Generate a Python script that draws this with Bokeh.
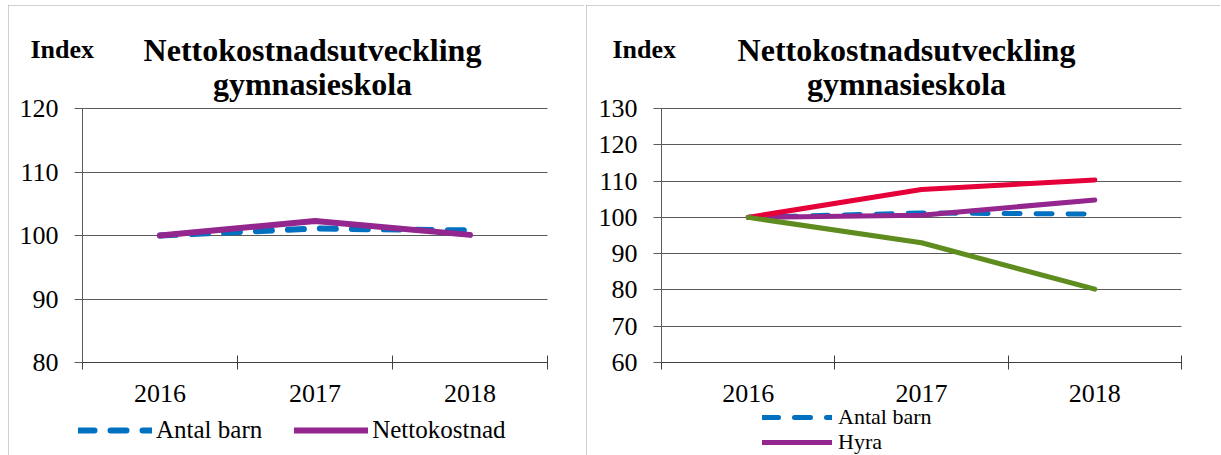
from bokeh.plotting import figure
from bokeh.models import (FixedTicker, Label, Legend, LegendItem, Range1d,
                          CustomJSTickFormatter, Grid)
from bokeh.layouts import row
from bokeh.embed import file_html
from bokeh.resources import INLINE

# ---------------- data ----------------
years = ["2016", "2017", "2018"]

left_antal_barn = [100.0, 101.1, 100.8]
left_nettokostnad = [100.0, 102.3, 100.1]
left_yticks = [80, 90, 100, 110, 120]

right_antal_barn = [100.0, 101.2, 100.9]
right_hyra = [100.0, 100.6, 104.8]
right_nettokostnad = [100.0, 107.7, 110.3]
right_lokaler = [100.0, 93.0, 80.2]
right_yticks = [60, 70, 80, 90, 100, 110, 120, 130]

title_line1 = "Nettokostnadsutveckling"
title_line2 = "gymnasieskola"
index_label = "Index"

# ---------------- style ----------------
FONT = "Liberation Serif"
BLUE = "#0070C0"
PURPLE = "#93278F"
RED = "#E5003A"
GREEN = "#5E8C1F"
GRID = "#5a5a5a"
BORDER = "#a3a3a3"

xs = [i + 0.5 for i in range(len(years))]
NCAT = len(years)
HAS_CROSS = "cross_bounds" in Grid.properties()


def make_panel(W, H, yticks, plot_box, title_px, index_px):
    """plot_box = (left, right, top, bottom) of the plotting area in panel pixels"""
    L, R, T, B = plot_box
    ux = (R - L) / NCAT
    uy = (B - T) / (yticks[-1] - yticks[0])
    x0 = -L / ux
    x1 = NCAT + (W - R) / ux
    y0 = yticks[0] - (H - B) / uy
    y1 = yticks[-1] + T / uy

    def dx(px):
        return (px - L) / ux

    def dy(py):
        return yticks[-1] + (T - py) / uy

    p = figure(width=W, height=H, output_backend="svg",
               toolbar_location=None,
               x_range=Range1d(x0, x1), y_range=Range1d(y0, y1),
               min_border=0)
    p.styles = {"outline": f"2px solid {BORDER}", "outline-offset": "-2px"}
    p.outline_line_color = None
    p.background_fill_color = "white"
    p.border_fill_color = "white"

    xa = p.xaxis[0]
    xa.fixed_location = yticks[0]
    xa.bounds = (0, NCAT)
    xa.ticker = FixedTicker(ticks=xs, minor_ticks=list(range(NCAT + 1)))
    xa.formatter = CustomJSTickFormatter(args=dict(labels=years),
                                         code="return labels[Math.floor(tick)];")
    xa.major_tick_in = 0
    xa.major_tick_out = 0
    xa.minor_tick_in = 7
    xa.minor_tick_out = 7
    xa.minor_tick_line_color = "#404040"
    xa.axis_line_color = "#404040"
    xa.major_label_text_font = FONT
    xa.major_label_text_font_size = "26px"
    xa.major_label_text_color = "black"
    xa.major_label_standoff = 15

    ya = p.yaxis[0]
    ya.fixed_location = 0
    ya.bounds = (yticks[0], yticks[-1])
    ya.ticker = FixedTicker(ticks=yticks)
    ya.major_tick_in = 0
    ya.major_tick_out = 8
    ya.minor_tick_line_color = None
    ya.major_tick_line_color = GRID
    ya.axis_line_color = GRID
    ya.major_label_text_font = FONT
    ya.major_label_text_font_size = "26px"
    ya.major_label_text_color = "black"
    ya.major_label_standoff = 16

    p.xgrid.grid_line_color = None
    p.ygrid.grid_line_color = GRID
    p.ygrid.grid_line_width = 1
    if HAS_CROSS:
        p.ygrid.cross_bounds = (0, NCAT)

    tx, (ty1, ty2) = title_px
    for txt, ty in zip([title_line1, title_line2], (ty1, ty2)):
        p.add_layout(Label(x=dx(tx), y=dy(ty), text=txt, text_font=FONT,
                           text_font_style="bold", text_font_size="32px",
                           text_align="center", text_baseline="alphabetic",
                           text_color="black"))
    p.add_layout(Label(x=dx(index_px[0]), y=dy(index_px[1]), text=index_label,
                       text_font=FONT, text_font_style="bold",
                       text_font_size="26px", text_align="left",
                       text_baseline="alphabetic", text_color="black"))
    return p


def make_legend(items, location, orientation, glyph_width, font_size,
                standoff, spacing, item_h):
    return Legend(items=items, location=location, orientation=orientation,
                  glyph_width=glyph_width, glyph_height=item_h,
                  label_height=item_h,
                  label_standoff=standoff, spacing=spacing, padding=0, margin=0,
                  label_text_font=FONT, label_text_font_size=font_size,
                  label_text_color="black",
                  border_line_color=None, background_fill_alpha=0)


# ---------------- left panel ----------------
pl = make_panel(576, 450, left_yticks, (74, 539, 103, 357),
                (304, (44, 78)), (22, 44))
r_lab = pl.line(xs, left_antal_barn, line_color=BLUE, line_width=6,
                line_dash="16 16", line_cap="round", line_join="round")
r_lnk = pl.line(xs, left_nettokostnad, line_color=PURPLE, line_width=6,
                line_cap="round", line_join="round")
pl.add_layout(make_legend(
    [LegendItem(label="Antal barn", renderers=[r_lab]),
     LegendItem(label="Nettokostnad", renderers=[r_lnk])],
    (70, 11), "horizontal", 74, "25px", 4, 32, 26))

# ---------------- right panel ----------------
pr = make_panel(634, 450, right_yticks, (75, 595, 103, 357),
                (320, (44, 78)), (26, 44))
r_rab = pr.line(xs, right_antal_barn, line_color=BLUE, line_width=5,
                line_dash="16 16", line_cap="round", line_join="round")
r_rhy = pr.line(xs, right_hyra, line_color=PURPLE, line_width=5,
                line_cap="round", line_join="round")
pr.line(xs, right_nettokostnad, line_color=RED, line_width=5,
        line_cap="round", line_join="round")
pr.line(xs, right_lokaler, line_color=GREEN, line_width=5,
        line_cap="round", line_join="round")
pr.add_layout(make_legend(
    [LegendItem(label="Antal barn", renderers=[r_rab])],
    (176, 25), "vertical", 70, "22px", 6, 0, 24))
pr.add_layout(make_legend(
    [LegendItem(label="Hyra", renderers=[r_rhy])],
    (176, 0), "vertical", 70, "22px", 6, 0, 24))

layout = row(pl, pr, spacing=2, margin=(5, 0, 0, 8))
open("out.html", "w").write(file_html(layout, INLINE))
